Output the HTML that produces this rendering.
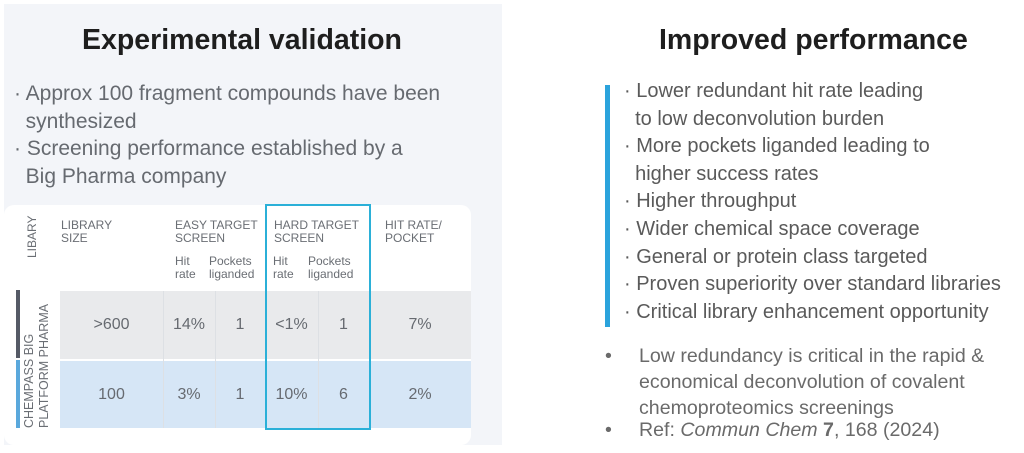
<!DOCTYPE html>
<html><head><style>
body{margin:0;width:1024px;height:453px;background:#fff;position:relative;overflow:hidden;font-family:"Liberation Sans",sans-serif;}
.a{position:absolute;white-space:nowrap;}
.panel{position:absolute;left:4px;top:4px;width:498px;height:441px;background:#f3f5f9;}
.t{font-weight:bold;font-size:28.5px;color:#1e1e1e;}
.l{font-size:21px;color:#666a70;line-height:27.5px;}
.card{position:absolute;left:4px;top:205px;width:467px;height:240px;background:#fff;border-radius:10px;}
.h{font-size:12px;color:#6a6e74;line-height:13px;}
.v{font-size:16px;color:#666a70;text-align:center;}
.r{font-size:20px;color:#5a5a5a;line-height:27.6px;}
.r2{font-size:19.6px;color:#6a6a6a;line-height:26px;}
</style></head><body>
<div class="panel"></div>
<div class="a t" style="left:82px;top:24px">Experimental validation</div>
<div class="a l" style="left:14px;top:80px">· Approx 100 fragment compounds have been<br>&nbsp;&nbsp;synthesized<br>· Screening performance established by a<br>&nbsp;&nbsp;Big Pharma company</div>
<div class="card"></div>
<div class="a" style="left:60px;top:291px;width:411px;height:68px;background:#e9eaec"></div>
<div class="a" style="left:60px;top:361px;width:411px;height:67px;background:#d6e6f6"></div>
<div class="a" style="left:163px;top:291px;width:1px;height:137px;background:#dde0e4"></div>
<div class="a" style="left:215px;top:291px;width:1px;height:137px;background:#dde0e4"></div>
<div class="a" style="left:318px;top:291px;width:1px;height:137px;background:#dde0e4"></div>
<div class="a" style="left:16px;top:290px;width:4px;height:68px;background:#555a66"></div>
<div class="a" style="left:16px;top:360px;width:4px;height:68px;background:#5aa8dc"></div>
<div class="a" style="left:265px;top:204px;width:102px;height:222px;border:2px solid #2bb0d8"></div>
<div class="a h" style="left:26px;top:258px;transform:rotate(-90deg);transform-origin:0 0">LIBARY</div>
<div class="a h" style="left:22px;top:428px;transform:rotate(-90deg);transform-origin:0 0;font-size:12.5px;line-height:15px">CHEMPASS BIG<br>PLATFORM PHARMA</div>
<div class="a h" style="left:61px;top:219px">LIBRARY<br>SIZE</div>
<div class="a h" style="left:175px;top:219px">EASY TARGET<br>SCREEN</div>
<div class="a h" style="left:175px;top:255px">Hit<br>rate</div>
<div class="a h" style="left:209px;top:255px">Pockets<br>liganded</div>
<div class="a h" style="left:274px;top:219px">HARD TARGET<br>SCREEN</div>
<div class="a h" style="left:273px;top:255px">Hit<br>rate</div>
<div class="a h" style="left:308px;top:255px">Pockets<br>liganded</div>
<div class="a h" style="left:385px;top:219px">HIT RATE/<br>POCKET</div>
<div class="a v" style="left:60px;top:316px;width:103px">&gt;600</div>
<div class="a v" style="left:163px;top:316px;width:52px">14%</div>
<div class="a v" style="left:215px;top:316px;width:50px">1</div>
<div class="a v" style="left:265px;top:316px;width:53px">&lt;1%</div>
<div class="a v" style="left:318px;top:316px;width:51px">1</div>
<div class="a v" style="left:369px;top:316px;width:102px">7%</div>
<div class="a v" style="left:60px;top:386px;width:103px">100</div>
<div class="a v" style="left:163px;top:386px;width:52px">3%</div>
<div class="a v" style="left:215px;top:386px;width:50px">1</div>
<div class="a v" style="left:265px;top:386px;width:53px">10%</div>
<div class="a v" style="left:318px;top:386px;width:51px">6</div>
<div class="a v" style="left:369px;top:386px;width:102px">2%</div>
<div class="a t" style="left:659px;top:24px">Improved performance</div>
<div class="a" style="left:605px;top:85px;width:5px;height:242px;background:#2ba3dc"></div>
<div class="a r" style="left:624px;top:78px">· Lower redundant hit rate leading<br>&nbsp;&nbsp;to low deconvolution burden<br>· More pockets liganded leading to<br>&nbsp;&nbsp;higher success rates<br>· Higher throughput<br>· Wider chemical space coverage<br>· General or protein class targeted<br>· Proven superiority over standard libraries<br>· Critical library enhancement opportunity</div>
<div class="a r2" style="left:605px;top:343px">•</div>
<div class="a r2" style="left:639px;top:343px">Low redundancy is critical in the rapid &amp;<br>economical deconvolution of covalent<br>chemoproteomics screenings</div>
<div class="a r2" style="left:605px;top:417px">•</div>
<div class="a r2" style="left:639px;top:417px">Ref: <i>Commun Chem</i> <b>7</b>, 168 (2024)</div>
</body></html>
